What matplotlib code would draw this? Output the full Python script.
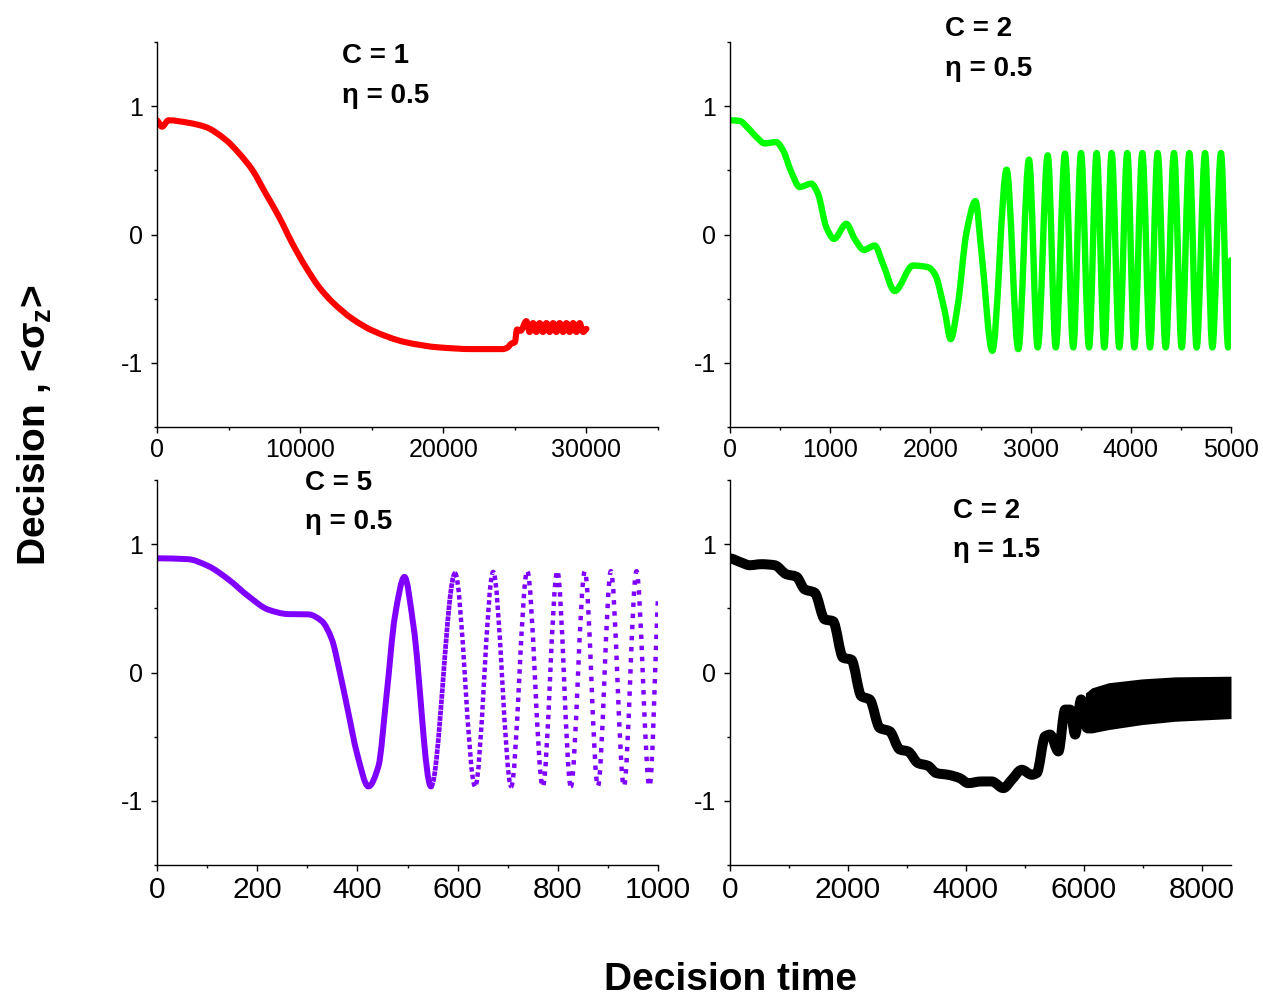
import numpy as np
import matplotlib
matplotlib.use('Agg')
import matplotlib.pyplot as plt
from matplotlib.path import Path
from matplotlib.patches import PathPatch
from matplotlib.ticker import MultipleLocator

plt.rcParams['font.family'] = ['Liberation Sans', 'DejaVu Sans']
plt.rcParams['mathtext.fontset'] = 'custom'
plt.rcParams['mathtext.rm'] = 'Liberation Sans:bold'
plt.rcParams['mathtext.it'] = 'Liberation Sans:bold'
plt.rcParams['mathtext.bf'] = 'Liberation Sans:bold'
plt.rcParams['lines.scale_dashes'] = False
plt.rcParams['axes.unicode_minus'] = False

# ---------------- data ----------------
# Panel 1: C = 1, eta = 0.5
red_x = [0, 350, 800, 2218, 3386, 4787, 5720, 6654, 7588, 8522, 9456, 10390,
         11324, 12258, 13659, 15060, 17394, 19729, 22064, 24165, 24500, 24750,
         25000, 25150, 25400, 25800, 26030, 26270, 26500, 26730, 26960, 27200,
         27430, 27670, 27900, 28130, 28370, 28600, 28830, 29070, 29300, 29530,
         29770, 30000]
red_y = [0.89, 0.84, 0.89, 0.87, 0.838, 0.739, 0.634, 0.504, 0.321, 0.138,
         -0.07, -0.253, -0.41, -0.527, -0.658, -0.749, -0.84, -0.88, -0.893,
         -0.893, -0.88, -0.85, -0.84, -0.74, -0.75, -0.675, -0.76, -0.69, -0.76,
         -0.69, -0.76, -0.69, -0.76, -0.69, -0.76, -0.69, -0.76, -0.69, -0.76,
         -0.69, -0.76, -0.69, -0.76, -0.735]

# Panel 2: C = 2, eta = 0.5
green_x = [0, 97, 180, 263, 346, 462, 529, 612, 695, 812, 878, 961, 1038, 1161,
           1244, 1337, 1444, 1527, 1644, 1826, 1976, 2043, 2142, 2202, 2275,
           2358, 2450, 2508, 2618, 2761, 2877, 2984, 3071, 3171, 3251, 3343,
           3426, 3503, 3583, 3659, 3736, 3809, 3885, 3965, 4035, 4115, 4192,
           4268, 4348, 4431, 4508, 4584, 4657, 4741, 4814, 4900, 4972, 5000]
green_y = [0.89, 0.885, 0.83, 0.76, 0.71, 0.72, 0.656, 0.487, 0.37, 0.396,
           0.318, 0.057, -0.034, 0.083, -0.034, -0.12, -0.086, -0.23, -0.44,
           -0.242, -0.255, -0.307, -0.594, -0.815, -0.541, 0.005, 0.26, -0.125,
           -0.906, 0.505, -0.893, 0.583, -0.88, 0.617, -0.88, 0.63, -0.88,
           0.635, -0.88, 0.635, -0.88, 0.635, -0.88, 0.635, -0.88, 0.635,
           -0.88, 0.635, -0.88, 0.635, -0.88, 0.635, -0.88, 0.635, -0.88,
           0.635, -0.88, -0.2]

# Panel 3: C = 5, eta = 0.5
purple_x = [0, 62, 102, 142, 182, 222, 262, 302, 329, 349, 365, 382, 399, 422,
            442, 458, 475, 494, 512, 547, 595, 635, 671, 707, 739, 770, 799,
            826, 854, 880, 906, 932, 957, 983, 1000]
purple_y = [0.89, 0.883, 0.83, 0.727, 0.596, 0.49, 0.455, 0.453, 0.40, 0.258,
            0.0, -0.315, -0.627, -0.888, -0.73, -0.185, 0.44, 0.745, 0.36,
            -0.888, 0.773, -0.888, 0.784, -0.888, 0.79, -0.888, 0.79, -0.888,
            0.79, -0.888, 0.79, -0.888, 0.79, -0.888, 0.6]

# Panel 4: C = 2, eta = 1.5
black_x = [0, 192, 334, 531, 758, 955, 1125, 1267, 1437, 1607, 1748, 1918,
           2059, 2228, 2370, 2540, 2710, 2880, 3021, 3190, 3360, 3501, 3700,
           3898, 4039, 4265, 4441, 4638, 4780, 4950, 5120, 5205, 5346, 5431,
           5572, 5685, 5770, 5855, 5957, 6053]
black_y = [0.89, 0.857, 0.836, 0.844, 0.836, 0.766, 0.747, 0.648, 0.622, 0.414,
           0.40, 0.115, 0.10, -0.185, -0.21, -0.432, -0.458, -0.60, -0.615,
           -0.706, -0.727, -0.784, -0.797, -0.823, -0.862, -0.849, -0.849,
           -0.901, -0.836, -0.758, -0.797, -0.784, -0.497, -0.484, -0.615,
           -0.289, -0.289, -0.484, -0.21, -0.432]
band_x = [6030, 6138, 6420, 6986, 7552, 8500]
band_hi = [-0.16, -0.12, -0.08, -0.05, -0.034, -0.029]
band_lo = [-0.47, -0.471, -0.445, -0.406, -0.38, -0.359]

x_ticks = [[0, 10000, 20000, 30000], [0, 1000, 2000, 3000, 4000, 5000],
           [0, 200, 400, 600, 800, 1000], [0, 2000, 4000, 6000, 8000]]
y_ticks = [-1, 0, 1]
labels_C = ['C = 1', 'C = 2', 'C = 5', 'C = 2']
labels_eta = ['η = 0.5', 'η = 0.5', 'η = 0.5', 'η = 1.5']


# ---------------- helpers ----------------
def slopes(x, y):
    x = np.asarray(x, float)
    y = np.asarray(y, float)
    h = np.diff(x)
    d = np.diff(y) / h
    m = np.zeros_like(y)
    for i in range(1, len(y) - 1):
        if d[i - 1] * d[i] > 0:
            w1 = 2 * h[i] + h[i - 1]
            w2 = h[i] + 2 * h[i - 1]
            m[i] = (w1 + w2) / (w1 / d[i - 1] + w2 / d[i])
    m[0] = d[0] * 0.5
    m[-1] = d[-1]
    return x, y, m


def curve_path(x, y, m, i0, i1):
    verts = [(x[i0], y[i0])]
    codes = [Path.MOVETO]
    for i in range(i0, i1):
        h = x[i + 1] - x[i]
        verts += [(x[i] + h / 3, y[i] + m[i] * h / 3),
                  (x[i + 1] - h / 3, y[i + 1] - m[i + 1] * h / 3),
                  (x[i + 1], y[i + 1])]
        codes += [Path.CURVE4] * 3
    return Path(verts, codes)


def draw(ax, xs, ys, color, lw, i0=0, i1=None, ls='solid', cap='round'):
    x, y, m = slopes(xs, ys)
    if i1 is None:
        i1 = len(x) - 1
    p = curve_path(x, y, m, i0, i1)
    ax.add_patch(PathPatch(p, fill=False, edgecolor=color, lw=lw, linestyle=ls,
                           capstyle=cap, joinstyle='round'))


# ---------------- figure ----------------
W, H = 1263, 999
fig = plt.figure(figsize=(W / 100, H / 100), dpi=100)

aw = 501 / W
ah = 385 / H
pos = [(157 / W, 1 - 427 / H), (730 / W, 1 - 427 / H),
       (157 / W, 1 - 865 / H), (730 / W, 1 - 865 / H)]
xlims = [(0, 35000), (0, 5000), (0, 1000), (0, 8500)]
xminor = [5000, 500, 100, 1000]
xfs = [18, 18, 21.5, 21.5]

axes = []
for k in range(4):
    ax = fig.add_axes([pos[k][0], pos[k][1], aw, ah])
    ax.set_xlim(*xlims[k])
    ax.set_ylim(-1.5, 1.5)
    ax.set_xticks(x_ticks[k])
    ax.set_yticks(y_ticks)
    ax.xaxis.set_minor_locator(MultipleLocator(xminor[k]))
    ax.yaxis.set_minor_locator(MultipleLocator(0.5))
    for s in ['top', 'right']:
        ax.spines[s].set_visible(False)
    for s in ['left', 'bottom']:
        ax.spines[s].set_linewidth(1.0)
    ax.tick_params(which='major', direction='out', length=4, width=1.0)
    ax.tick_params(which='minor', direction='out', length=2.5, width=1.0)
    ax.tick_params(axis='x', labelsize=xfs[k], pad=4)
    ax.tick_params(axis='y', labelsize=18, pad=6)
    ax.patch.set_visible(False)
    axes.append(ax)

# Panel 1 red
draw(axes[0], red_x, red_y, '#ff0000', 4.4)

# Panel 2 green
draw(axes[1], green_x, green_y, '#00ff00', 4.6)

# Panel 3 purple: solid start, dotted later (sparser with frequency)
ax = axes[2]
ix = purple_x.index
draw(ax, purple_x, purple_y, '#8000ff', 4.3, 0, ix(547))
draw(ax, purple_x, purple_y, '#8000ff', 3.4, ix(547), ix(595), ls=(0, (3.4, 0.6)), cap='butt')
draw(ax, purple_x, purple_y, '#8000ff', 3.2, ix(595), ix(707), ls=(0, (3.2, 2.2)), cap='butt')
draw(ax, purple_x, purple_y, '#8000ff', 3.2, ix(707), ix(826), ls=(0, (3.2, 3.6)), cap='butt')
draw(ax, purple_x, purple_y, '#8000ff', 3.2, ix(826), len(purple_x) - 1, ls=(0, (3.2, 4.8)), cap='butt')

# Panel 4 black
ax = axes[3]
draw(ax, black_x, black_y, 'black', 7.2)
ax.fill_between(band_x, band_lo, band_hi, color='black', lw=0)

# annotations
ann = [(342, 63, 103), (945, 36, 76), (305, 490, 529), (953, 518, 557)]
for k in range(4):
    xl, b1, b2 = ann[k]
    fig.text(xl / W, 1 - b1 / H, labels_C[k], fontsize=20, fontweight='bold',
             ha='left', va='baseline')
    fig.text(xl / W, 1 - b2 / H, labels_eta[k], fontsize=20, fontweight='bold',
             ha='left', va='baseline')

fig.text(731 / W, 1 - 990 / H, 'Decision time', fontsize=28, fontweight='bold',
         ha='center', va='baseline')
fig.text(35 / W, 1 - 425 / H, r'Decision , <$σ_z$>', fontsize=28,
         fontweight='bold', rotation=90, ha='center', va='center')

fig.savefig('out.png', dpi=100)
